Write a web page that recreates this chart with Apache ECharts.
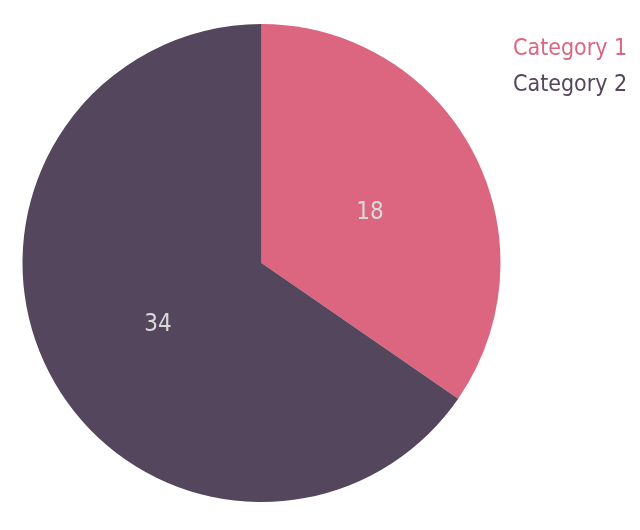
<!DOCTYPE html>
<html>
<head>
<meta charset="utf-8">
<script src="https://cdn.jsdelivr.net/npm/echarts@6/dist/echarts.min.js"></script>
<style>html,body{margin:0;padding:0;background:#fff;}#c{width:640px;height:530px;}</style>
</head>
<body>
<div id="c"></div>
<script>
var categories = ['Category 1', 'Category 2'];
var values = [18, 34];
var colors = ['#DC6580', '#54465C'];
var labelOffsets = [[0, 7], [5, 5]];

var chart = echarts.init(document.getElementById('c'), null, {renderer: 'canvas'});
chart.setOption({
  animation: false,
  color: colors,
  legend: {
    orient: 'vertical',
    left: 503,
    top: 33,
    icon: 'none',
    itemWidth: 0,
    itemHeight: 23,
    itemGap: 13,
    data: categories.map(function (c, i) {
      return {name: c, textStyle: {color: colors[i]}};
    }),
    textStyle: {fontFamily: 'DejaVu Sans Condensed', fontSize: 23}
  },
  series: [{
    type: 'pie',
    center: [261.5, 263],
    radius: 239,
    startAngle: 90,
    clockwise: true,
    label: {
      show: true,
      position: 'inside',
      formatter: '{c}',
      color: '#D9D9D9',
      fontFamily: 'DejaVu Sans Condensed',
      fontSize: 24
    },
    labelLine: {show: false},
    emphasis: {disabled: true},
    itemStyle: {borderWidth: 0},
    data: categories.map(function (c, i) {
      return {name: c, value: values[i], label: {offset: labelOffsets[i]}};
    })
  }]
});
</script>
</body>
</html>
